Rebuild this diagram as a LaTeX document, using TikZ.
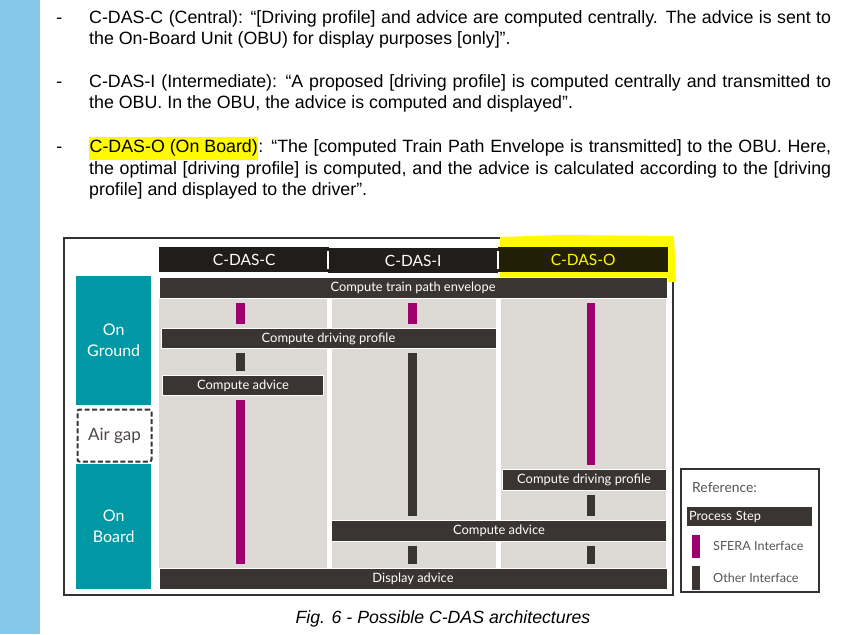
\documentclass[tikz,border=0pt]{standalone}
\usepackage{fontspec}
\setmainfont{Liberation Sans}
\newfontfamily\figfont{Lato}
\usetikzlibrary{positioning,calc}
\definecolor{pagebar}{RGB}{135,200,232}
\definecolor{marker}{RGB}{255,250,0}
\definecolor{stepgrey}{RGB}{58,53,51}
\definecolor{headblack}{RGB}{33,29,27}
\definecolor{colgrey}{RGB}{221,218,214}
\definecolor{sferapink}{RGB}{158,0,108}
\definecolor{tealbox}{RGB}{0,152,165}
\definecolor{framegrey}{RGB}{50,50,50}
\definecolor{olivehead}{RGB}{34,31,6}
\newcommand\dashitem{\llap{-\hspace{27pt}}}
\newcommand\highlit[1]{{\setlength{\fboxsep}{0.5pt}\colorbox{marker}{\strut #1}}}
\tikzset{
  para/.style={anchor=north west,inner sep=0pt,text width=742pt,align=justify,
    font=\fontsize{17.8}{21.5}\selectfont},
  stepbar/.style={anchor=north west,fill=stepgrey,draw=white,line width=1pt,
    text=white,inner sep=0pt,font=\figfont\fontsize{12.9}{14}\selectfont},
  headbar/.style={anchor=north west,fill=headblack,inner sep=0pt,minimum height=25pt,
    text=white,font=\figfont\fontsize{15.5}{17}\selectfont},
  sidebox/.style={anchor=north west,fill=tealbox,inner sep=0pt,minimum width=75pt,
    text=white,align=center,font=\figfont\fontsize{16}{21}\selectfont},
  sfera/.style={draw=sferapink,line width=8.5pt,shorten >=4pt,shorten <=4pt},
  other/.style={draw=stepgrey,line width=8.5pt,shorten >=4pt,shorten <=4pt},
  legtext/.style={anchor=west,inner sep=0pt,text=stepgrey!85,
    font=\figfont\fontsize{12.6}{14}\selectfont}
}

\begin{document}
\begin{tikzpicture}[x=1pt,y=-1pt]
\useasboundingbox (0,0) rectangle (858,634);
\fill[pagebar] (0,0) rectangle (40,634);

% the three definitions
\node[para] (p1) at (89,10) {\dashitem C-DAS-C (Central): “[Driving profile] and advice are computed centrally. The advice is sent to\linebreak the On-Board Unit (OBU) for display purposes [only]”.};
\node[para] (p2) at (89,74) {\dashitem C-DAS-I (Intermediate): “A proposed [driving profile] is computed centrally and transmitted to\linebreak the OBU. In the OBU, the advice is computed and displayed”.};
\node[para] (p3) at (89,137) {\dashitem \highlit{C-DAS-O (On Board)}: “The [computed Train Path Envelope is transmitted] to the OBU. Here,\linebreak the optimal [driving profile] is computed, and the advice is calculated according to the [driving\linebreak profile] and displayed to the driver”.};

% figure frame
\draw[framegrey,line width=1.3pt] (64,238) rectangle (673,595);
\fill[marker] (500,237) -- (560,235) -- (674,236) -- (676,282) -- (600,284) -- (500,281) -- cycle;

\coordinate (c1) at (240.5,0);
\coordinate (c2) at (412.5,0);
\coordinate (c3) at (591,0);

\node[headbar,minimum width=170pt] (hc) at (159,247) {C-DAS-C};
\node[headbar,minimum width=170pt] (hi) at (328,248) {C-DAS-I};
\node[headbar,minimum width=170pt,fill=olivehead,text=marker] (ho) at (498,247) {C-DAS-O};
\draw[white,line width=1.6pt] (hi.north west) ++(0,3) -- ++(0,18);
\draw[white,line width=1.6pt] (ho.north west) ++(0,4) -- ++(0,18);

% columns
\fill[colgrey] (159,297) rectangle (327,569);
\fill[colgrey] (332,297) rectangle (496,569);
\fill[colgrey] (501,297) rectangle (666,569);

\node[sidebox,minimum height=129pt] (ground) at (76,276) {On\\Ground};
\node[anchor=north west,draw=stepgrey,dash pattern=on 5pt off 2.5pt,line width=2pt,fill=white,
  rounded corners=2pt,minimum width=74pt,minimum height=52pt,inner sep=0pt,text=stepgrey!90,
  font=\figfont\fontsize{17}{20}\selectfont] (airgap) at (76.5,408.5) {Air gap};
\node[sidebox,minimum height=125pt] (board) at (76,464) {On\\Board};

% process steps
\node[stepbar,minimum width=508pt,minimum height=21pt] (tpe) at (158.5,277) {Compute train path envelope};
\node[stepbar,minimum width=335pt,minimum height=20pt] (cdp) at (160.5,328) {Compute driving profile};
\node[stepbar,minimum width=161pt,minimum height=20pt] (cac) at (162,375) {Compute advice};
\node[stepbar,minimum width=164pt,minimum height=21pt] (cdpo) at (501.5,468.5) {Compute driving profile};
\node[stepbar,minimum width=335pt,minimum height=21pt] (cai) at (331,519.5) {Compute advice};
\node[stepbar,minimum width=508pt,minimum height=21pt] (disp) at (158.5,567.5) {Display advice};

% interfaces
\draw[sfera] (tpe.south -| c1) -- (cdp.north -| c1);
\draw[sfera] (tpe.south -| c2) -- (cdp.north -| c2);
\draw[sfera] (tpe.south -| c3) -- (cdpo.north -| c3);
\draw[other] (cdp.south -| c1) -- (cac.north -| c1);
\draw[sfera] (cac.south -| c1) -- (disp.north -| c1);
\draw[other] (cdp.south -| c2) -- (cai.north -| c2);
\draw[other] (cai.south -| c2) -- (disp.north -| c2);
\draw[other] (cdpo.south -| c3) -- (cai.north -| c3);
\draw[other] (cai.south -| c3) -- (disp.north -| c3);

% legend
\draw[framegrey,line width=1.3pt] (681,469) rectangle (819,592);
\node[legtext,font=\figfont\fontsize{13.9}{15}\selectfont] (ref) at (692,487) {Reference:};
\node[stepbar,minimum width=126pt,minimum height=20pt,align=left,text width=121pt,
  font=\figfont\fontsize{12.7}{14}\selectfont] (lstep) at (686,506) {Process Step};
\fill[sferapink] (692,535) rectangle (700,558);
\fill[stepgrey] (692,566) rectangle (700,590);
\node[legtext] (lsfera) at (713,546) {SFERA Interface};
\node[legtext] (lother) at (713,578) {Other Interface};

\node[font=\itshape\fontsize{17.7}{20}\selectfont] (caption) at (443,619) {Fig. 6 - Possible C-DAS architectures};
\end{tikzpicture}
\end{document}
